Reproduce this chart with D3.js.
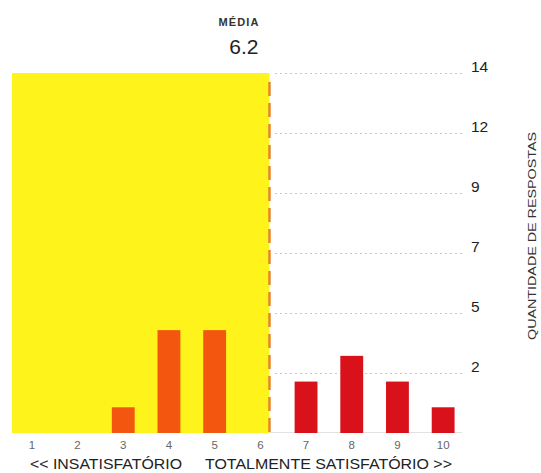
<!DOCTYPE html>
<html>
<head>
<meta charset="utf-8">
<script src="https://cdn.jsdelivr.net/npm/d3@7"></script>
<style>
  body { margin: 0; background: #fff; }
  text { font-family: "Liberation Sans", Arial, sans-serif; }
</style>
</head>
<body>
<div id="chart"></div>
<script>
// Data
const scores = [1, 2, 3, 4, 5, 6, 7, 8, 9, 10]
const counts = [0, 0, 1, 4, 4, 0, 2, 3, 2, 1]
const mean = 6.2
const yTickValues = [14 / 6, 28 / 6, 7, 56 / 6, 70 / 6, 14]
const yMax = 14

// Canvas
const W = 541, H = 473
const svg = d3.select('#chart')
    .append('svg')
    .attr('width', W)
    .attr('height', H)

const xScale = d3.scaleBand()
    .domain(scores)
    .range([9, 466])
    .paddingInner(0.5)
    .paddingOuter(0.25)

const xVal = v => xScale(1) + xScale.bandwidth() / 2 + (v - 1) * xScale.step()

const yScale = d3.scaleLinear().domain([0, yMax]).range([433, 73])

const meanX = xVal(mean)

// Yellow zone (below mean)
svg.append('rect')
    .attr('x', 12)
    .attr('y', yScale(yMax))
    .attr('width', meanX - 12)
    .attr('height', yScale(0) - yScale(yMax))
    .attr('fill', '#fff31c')

// Right axis with dotted gridlines
const axisX = 462
const yAxis = d3.axisRight(yScale)
    .tickValues(yTickValues)
    .tickSize(-(axisX - meanX - 3))
    .tickPadding(9)
    .tickFormat(d => Math.round(d))

const yAxisG = svg.append('g')
    .attr('transform', `translate(${axisX},0)`)
    .call(yAxis)
yAxisG.select('.domain').remove()
yAxisG.selectAll('line')
    .attr('stroke', '#c8c8c8')
    .attr('stroke-dasharray', '2,3')
yAxisG.selectAll('text')
    .attr('font-size', 15.5)
    .attr('fill', '#222')
    .attr('dy', '-0.1em')

// faint baseline on right
svg.append('line')
    .attr('x1', meanX).attr('x2', axisX)
    .attr('y1', yScale(0) - 0.5).attr('y2', yScale(0) - 0.5)
    .attr('stroke', '#e2e2e2')

// Bars
svg.append('g').selectAll('rect')
    .data(scores)
    .enter().append('rect')
    .attr('x', (d, i) => xScale(d))
    .attr('y', (d, i) => yScale(counts[i]))
    .attr('width', xScale.bandwidth())
    .attr('height', (d, i) => yScale(0) - yScale(counts[i]))
    .attr('fill', d => d < mean ? '#f2560f' : '#d9111b')

// Mean line
svg.append('line')
    .attr('x1', meanX).attr('x2', meanX)
    .attr('y1', yScale(yMax) + 9).attr('y2', yScale(0))
    .attr('stroke', '#e5862c')
    .attr('stroke-width', 2.5)
    .attr('stroke-dasharray', '14,7')

svg.append('text')
    .attr('x', meanX - 11).attr('y', 26)
    .attr('text-anchor', 'end')
    .attr('font-size', 11)
    .attr('font-weight', 'bold')
    .attr('fill', '#333')
    .attr('textLength', 40)
    .text('MÉDIA')

svg.append('text')
    .attr('x', meanX - 11).attr('y', 54)
    .attr('text-anchor', 'end')
    .attr('font-size', 21)
    .attr('fill', '#222')
    .text(mean.toFixed(1))

// Bottom axis
const xAxis = d3.axisBottom(xScale).tickSize(0).tickPadding(8)
const xAxisG = svg.append('g')
    .attr('transform', `translate(0,${yScale(0)})`)
    .call(xAxis)
xAxisG.select('.domain').remove()
xAxisG.selectAll('text')
    .attr('font-size', 11.5)
    .attr('fill', '#666')

svg.append('text')
    .attr('x', 30).attr('y', 469)
    .attr('font-size', 15)
    .attr('fill', '#222')
    .attr('textLength', 152)
    .attr('lengthAdjust', 'spacingAndGlyphs')
    .text('<< INSATISFATÓRIO')

svg.append('text')
    .attr('x', 205).attr('y', 469)
    .attr('font-size', 15)
    .attr('fill', '#222')
    .attr('textLength', 247)
    .attr('lengthAdjust', 'spacingAndGlyphs')
    .text('TOTALMENTE SATISFATÓRIO >>')

// Y title
svg.append('text')
    .attr('transform', 'translate(536,236) rotate(-90)')
    .attr('x', -104)
    .attr('font-size', 11.5)
    .attr('fill', '#333')
    .attr('textLength', 208)
    .attr('lengthAdjust', 'spacingAndGlyphs')
    .text('QUANTIDADE DE RESPOSTAS')
</script>
</body>
</html>
